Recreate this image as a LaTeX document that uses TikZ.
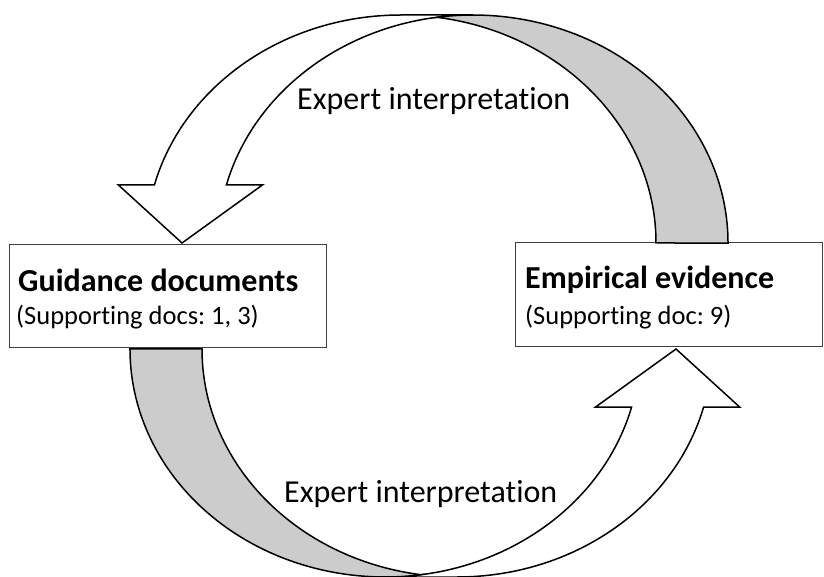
\documentclass[tikz,border=0pt]{standalone}
\usepackage{fontspec}
\setmainfont{Carlito}[Ligatures=NoCommon]
\frenchspacing
% one curved block arrow: white front band ending in the head, grey back band at the tail
\newcommand\drawcurvedarrow{%
  \path[frontface] (182,333) -- (262.4,391) -- (226.4,391)
     arc[start angle=165.26, end angle=90, x radius=255, y radius=228]
     -- (401,561)
     arc[start angle=90, end angle=165.26, x radius=255, y radius=228]
     -- (118.4,391) -- cycle;
  \path[backface] (437,558.7)
     arc[start angle=98.12, end angle=0, x radius=255, y radius=228]
     -- (656,333)
     arc[start angle=0, end angle=81.88, x radius=255, y radius=228]
     -- cycle;
}
\begin{document}
\begin{tikzpicture}[x=1pt,y=1pt,
  box/.style={draw=black!75, line width=1pt, fill=white, inner sep=0pt, anchor=south west},
  arrowline/.style={draw=black, line width=1.5pt, line join=miter},
  backface/.style={arrowline, fill=black!20},
  frontface/.style={arrowline, fill=white},
  title/.style={font=\fontsize{32}{38}\selectfont\bfseries, anchor=base west, inner sep=0pt},
  note/.style={font=\fontsize{26.5}{32}\selectfont, anchor=base west, inner sep=0pt},
  flowlabel/.style={font=\fontsize{32}{38}\selectfont, anchor=base west, inner sep=0pt},
]
\useasboundingbox (0,0) rectangle (824,576);

% the two boxes
\node[box, minimum width=317pt, minimum height=103pt] (guid) at (9,228) {};
\node[box, minimum width=307pt, minimum height=104pt] (emp) at (515,229) {};

% upper arrow: from the evidence box back to the guidance box
\drawcurvedarrow
% lower arrow: the same shape turned half a turn
\begin{scope}[rotate around={180:(429,280)}]
  \drawcurvedarrow
\end{scope}

% texts
\node[title] (guidtitle) at (18,284.3) {Guidance documents};
\node[note] (guidnote) at (16,251.7) {(Supporting docs: 1, 3)};
\node[title] (emptitle) at (525,287.7) {Empirical evidence};
\node[note] (empnote) at (525,251.7) {(Supporting doc: 9)};
\node[flowlabel] (toplabel) at (297,466) {Expert interpretation};
\node[flowlabel] (bottomlabel) at (284,74) {Expert interpretation};
\end{tikzpicture}
\end{document}
